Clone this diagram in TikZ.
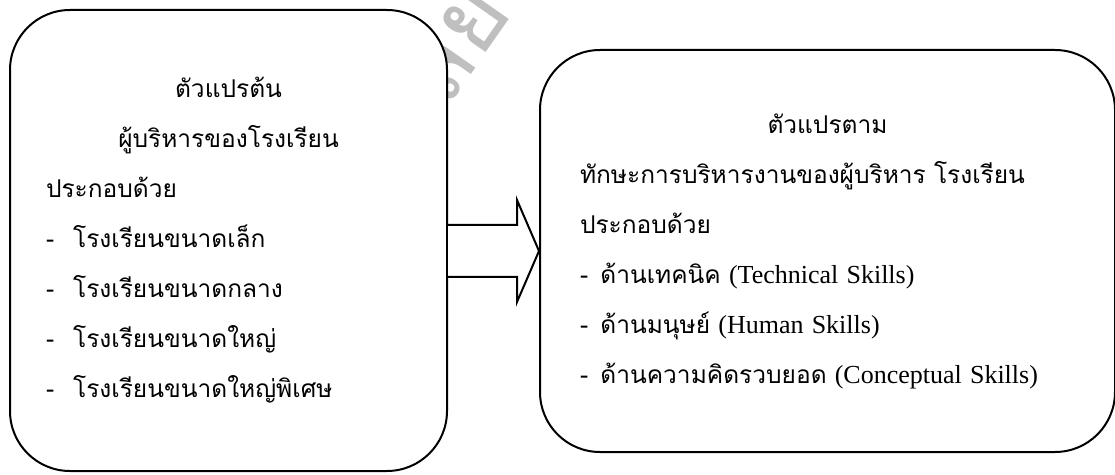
\documentclass[tikz,border=0pt]{standalone}
\usepackage{fontspec}
\setmainfont{Liberation Serif}
\newfontfamily\thaifont[Script=Thai]{Loma}
\newcommand\engtext[1]{{\rmfamily\fontsize{26}{50}\selectfont #1}}
\usetikzlibrary{positioning,calc}

\begin{document}
\begin{tikzpicture}[x=1pt,y=1pt,node distance=91pt,line width=2pt,
  var node/.style={draw,fill=white,rounded corners=60pt,inner sep=0pt,align=left,
    font=\thaifont\fontsize{24.5}{50}\selectfont},
  big arrow/.style={draw,fill=white,line join=miter},
  wm text/.style={rotate=55,text=gray!50,inner sep=0pt,
    font=\thaifont\fontsize{100}{100}\selectfont}]
\useasboundingbox (0,0) rectangle (1115,474);
\node[wm text,anchor=base west] (W) at (445,362) {ลัยรา};
\node[var node,minimum width=437pt,minimum height=461pt,text width=365pt] (X) at (228.5,233.5)
  {\makebox[365pt]{ตัวแปรต้น}\\
   \makebox[365pt]{ผู้บริหารของโรงเรียน}\\
   ประกอบด้วย\\
   -\hspace{19pt}โรงเรียนขนาดเล็ก\\
   -\hspace{19pt}โรงเรียนขนาดกลาง\\
   -\hspace{19pt}โรงเรียนขนาดใหญ่\\
   -\hspace{19pt}โรงเรียนขนาดใหญ่พิเศษ};
\node[var node,minimum width=575pt,minimum height=402pt,text width=495pt,right=of X,yshift=-10.5pt] (Y)
  {\makebox[495pt]{ตัวแปรตาม}\\
   ทักษะการบริหารงานของผู้บริหาร โรงเรียน\\
   ประกอบด้วย\\
   -\enspace ด้านเทคนิค \engtext{(Technical Skills)}\\
   -\enspace ด้านมนุษย์ \engtext{(Human Skills)}\\
   -\enspace ด้านความคิดรวบยอด \engtext{(Conceptual Skills)}};
\draw[big arrow] ($(X.east |- Y.west)+(0,26)$) -- ++(69,0) -- ++(0,25) -- (Y.west)
  -- ++(-22,-51) -- ++(0,25) -- ($(X.east |- Y.west)+(0,-26)$);
\end{tikzpicture}
\end{document}
